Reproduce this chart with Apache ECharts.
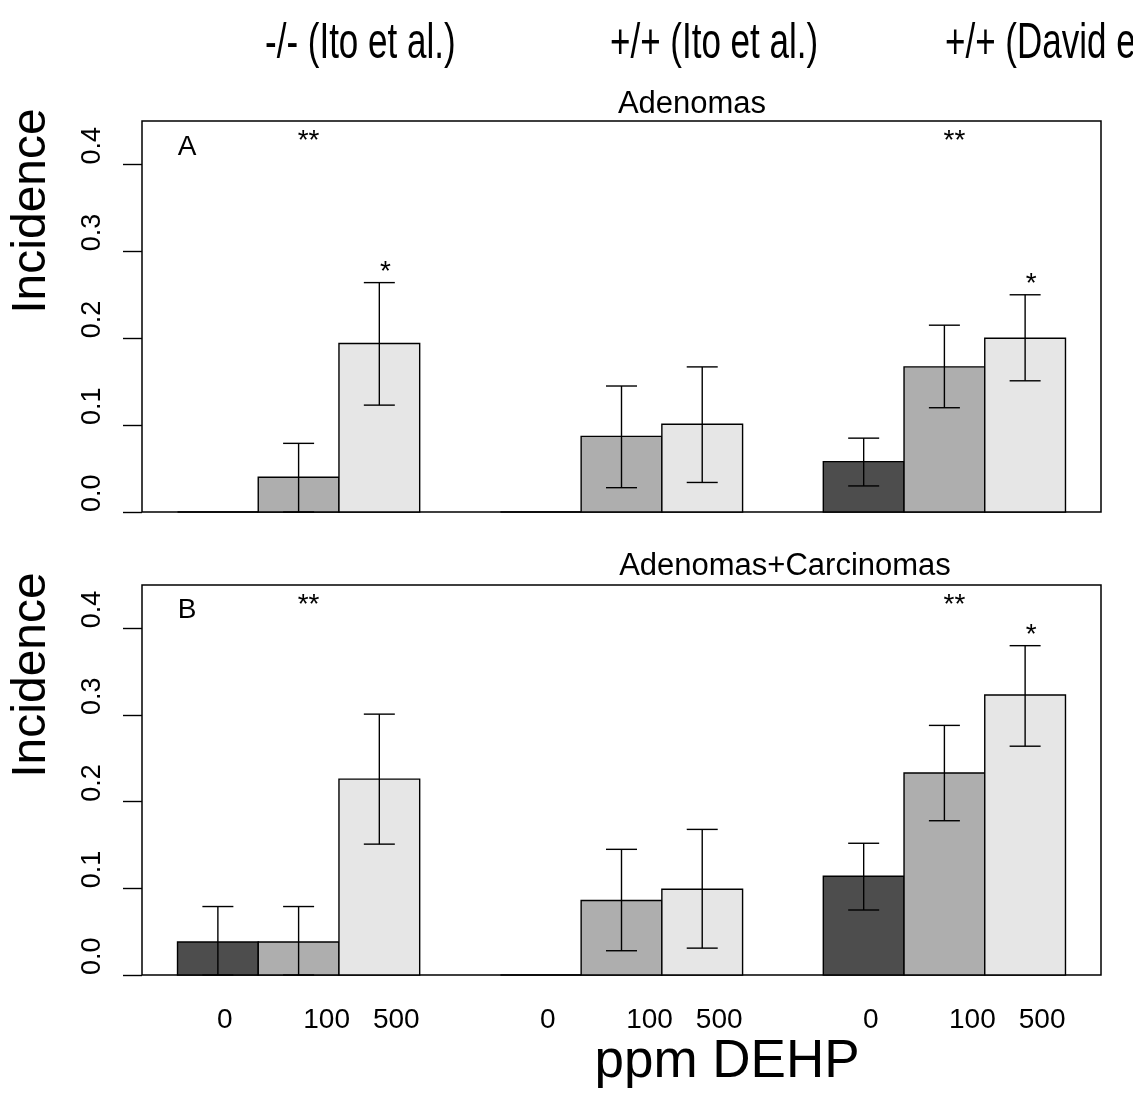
<!DOCTYPE html>
<html><head><meta charset="utf-8">
<script src="https://cdn.jsdelivr.net/npm/echarts@6/dist/echarts.min.js"></script>
<style>html,body{margin:0;padding:0;background:#fff}#c{width:1133px;height:1093px}</style>
</head><body><div id="c"></div>
<script>
// ---- data ----
const groups = ['-/- (Ito et al.)', '+/+ (Ito et al.)', '+/+ (David et al.)'];
const doses = ['0', '100', '500'];
const panelTitles = ['Adenomas', 'Adenomas+Carcinomas'];
const panelLetters = ['A', 'B'];
const yTicks = [0, 0.1, 0.2, 0.3, 0.4];
// order: group1 (0,100,500), group2 (0,100,500), group3 (0,100,500)
const adenomaMean = [0, 0.040, 0.194, 0, 0.087, 0.101, 0.058, 0.167, 0.200];
const adenomaLow  = [0, 0, 0.123, 0, 0.028, 0.034, 0.030, 0.120, 0.151];
const adenomaHigh = [0, 0.079, 0.264, 0, 0.145, 0.167, 0.085, 0.215, 0.250];
const adenomaSig  = ['', '**', '*', '', '', '', '', '**', '*'];
const comboMean = [0.038, 0.038, 0.226, 0, 0.086, 0.099, 0.114, 0.233, 0.323];
const comboLow  = [0, 0, 0.151, 0, 0.028, 0.031, 0.075, 0.178, 0.264];
const comboHigh = [0.079, 0.079, 0.301, 0, 0.145, 0.168, 0.152, 0.288, 0.380];
const comboSig  = ['', '**', '', '', '', '', '', '**', '*'];

// ---- styling / layout ----
const FONT = '"Liberation Sans", Arial, Helvetica, sans-serif';
const doseColors = ['#4D4D4D', '#AEAEAE', '#E6E6E6'];
const labelOffsets = [7, 28, 17];
const chart = echarts.init(document.getElementById('c'), null, {renderer: 'canvas'});

function slotCenter(i) { return Math.floor(i / 3) * 4 + (i % 3) + 1.5; }

function makeSeries(panel, mean, low, high, sig) {
  const data = mean.map((m, i) => [slotCenter(i), m, low[i], high[i], i % 3, i]);
  return {
    type: 'custom', xAxisIndex: panel, yAxisIndex: panel, data: data, clip: false,
    silent: true, animation: false,
    renderItem: function (params, api) {
      const x = api.value(0), m = api.value(1), lo = api.value(2), hi = api.value(3);
      const d = api.value(4), i = api.value(5);
      const tl = api.coord([x - 0.5, m]);
      const br = api.coord([x + 0.5, 0]);
      const c = api.coord([x, 0]);
      const children = [{
        type: 'rect',
        shape: {x: tl[0], y: tl[1], width: br[0] - tl[0], height: br[1] - tl[1]},
        style: {fill: doseColors[d], stroke: '#000', lineWidth: 1.4}
      }];
      if (hi > lo) {
        const ph = api.coord([x, hi]), pl = api.coord([x, lo]);
        const cap = 15.5;
        const ls = {stroke: '#000', lineWidth: 1.4};
        children.push({type: 'line', shape: {x1: ph[0], y1: ph[1], x2: pl[0], y2: pl[1]}, style: ls});
        children.push({type: 'line', shape: {x1: ph[0] - cap, y1: ph[1], x2: ph[0] + cap, y2: ph[1]}, style: ls});
        children.push({type: 'line', shape: {x1: pl[0] - cap, y1: pl[1], x2: pl[0] + cap, y2: pl[1]}, style: ls});
      }
      const s = sig[i];
      if (s === '**') {
        const p = api.coord([x, 0.43]);
        children.push({type: 'text', x: p[0] + 10, y: p[1] + 3,
          style: {text: s, font: '28px ' + FONT, fill: '#000', align: 'center', verticalAlign: 'middle'}});
      } else if (s === '*') {
        const p = api.coord([x, hi]);
        children.push({type: 'text', x: p[0] + 6, y: p[1] - 10,
          style: {text: s, font: '28px ' + FONT, fill: '#000', align: 'center', verticalAlign: 'middle'}});
      }
      if (panel === 1) {
        children.push({type: 'text', x: c[0] + labelOffsets[d], y: c[1] + 45,
          style: {text: doses[d], font: '28px ' + FONT, fill: '#000', align: 'center', verticalAlign: 'middle'}});
      }
      return {type: 'group', children: children};
    }
  };
}

function yAxisDef(idx) {
  return {
    type: 'value', gridIndex: idx, min: 0, max: 0.45, interval: 0.1,
    axisLine: {show: false},
    splitLine: {show: false},
    axisTick: {show: true, length: 19, customValues: yTicks, lineStyle: {color: '#000', width: 1.4}},
    axisLabel: {show: true, rotate: 90, margin: 36, customValues: yTicks, align: 'left',
      formatter: v => v.toFixed(1), fontSize: 27, fontFamily: FONT, color: '#000'}
  };
}
function xAxisDef(idx) {
  return {type: 'value', gridIndex: idx, min: 0.56, max: 12.44, show: false};
}

const graphics = [];
const headerX = [265, 610, 945];
groups.forEach((g, k) => graphics.push({type: 'text', x: headerX[k], y: 44, scaleX: 0.7,
  style: {text: g, font: '50px ' + FONT, fill: '#000', align: 'left', verticalAlign: 'middle'}}));
graphics.push({type: 'text', x: 692, y: 104, style: {text: panelTitles[0], font: '31px ' + FONT, fill: '#000', align: 'center', verticalAlign: 'middle'}});
graphics.push({type: 'text', x: 785, y: 566, style: {text: panelTitles[1], font: '31px ' + FONT, fill: '#000', align: 'center', verticalAlign: 'middle'}});
graphics.push({type: 'text', x: 187, y: 147, style: {text: panelLetters[0], font: '28px ' + FONT, fill: '#000', align: 'center', verticalAlign: 'middle'}});
graphics.push({type: 'text', x: 187, y: 610, style: {text: panelLetters[1], font: '28px ' + FONT, fill: '#000', align: 'center', verticalAlign: 'middle'}});
[211, 675].forEach(yy => graphics.push({type: 'text', x: 32, y: yy, rotation: Math.PI / 2,
  style: {text: 'Incidence', font: '48px ' + FONT, fill: '#000', align: 'center', verticalAlign: 'middle'}}));
graphics.push({type: 'text', x: 727, y: 1062, style: {text: 'ppm DEHP', font: '53px ' + FONT, fill: '#000', align: 'center', verticalAlign: 'middle'}});

chart.setOption({
  animation: false,
  backgroundColor: '#fff',
  grid: [
    {left: 142, top: 121, width: 959, height: 391, show: true, borderColor: '#000', borderWidth: 1.5, backgroundColor: 'transparent'},
    {left: 142, top: 585, width: 959, height: 390, show: true, borderColor: '#000', borderWidth: 1.5, backgroundColor: 'transparent'}
  ],
  xAxis: [xAxisDef(0), xAxisDef(1)],
  yAxis: [yAxisDef(0), yAxisDef(1)],
  series: [
    makeSeries(0, adenomaMean, adenomaLow, adenomaHigh, adenomaSig),
    makeSeries(1, comboMean, comboLow, comboHigh, comboSig)
  ],
  graphic: graphics
});
</script>
</body></html>
